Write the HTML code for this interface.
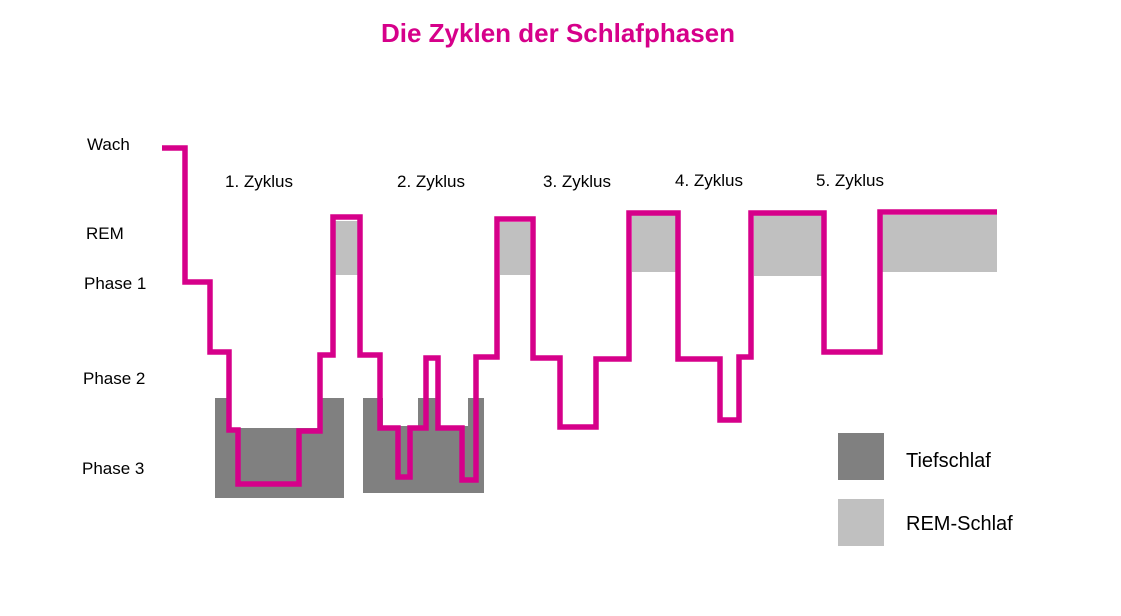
<!DOCTYPE html>
<html><head><meta charset="utf-8"><style>
html,body{margin:0;padding:0;background:#fff;}
svg{display:block;}
text{font-family:"Liberation Sans",sans-serif;}
</style></head><body>
<svg width="1121" height="616" viewBox="0 0 1121 616">
<rect width="1121" height="616" fill="#fff"/>
<text x="558" y="42" text-anchor="middle" font-size="26" font-weight="bold" fill="#d6008a">Die Zyklen der Schlafphasen</text>
<g fill="#808080">
<rect x="215" y="398" width="129" height="100"/>
<rect x="363" y="398" width="121" height="95"/>
<rect x="838" y="433" width="46" height="47"/>
</g>
<g fill="#fff">
<rect x="231" y="398" width="87" height="30"/>
<rect x="383" y="398" width="35" height="28"/>
<rect x="440" y="398" width="28" height="28"/>
</g>
<g fill="#c0c0c0">
<rect x="335" y="221" width="23" height="54"/>
<rect x="500" y="222" width="30" height="53"/>
<rect x="632" y="215" width="44" height="57"/>
<rect x="754" y="215" width="68" height="61"/>
<rect x="882" y="215" width="115" height="57"/>
<rect x="838" y="499" width="46" height="47"/>
</g>
<polyline fill="none" stroke="#d6008a" stroke-width="5.5" stroke-linejoin="miter" points="162,148 185,148 185,282 210,282 210,352 229,352 229,430 238,430 238,484 299,484 299,431 320,431 320,355 333,355 333,217 360,217 360,355 380,355 380,428 398,428 398,477 410,477 410,428 426,428 426,358 438,358 438,428 462,428 462,480 476,480 476,357 497,357 497,219 533,219 533,358 560,358 560,427 596,427 596,359 629,359 629,213 678,213 678,359 720,359 720,420 739,420 739,357 751,357 751,213 824,213 824,352 880,352 880,212 997,212"/>
<g font-size="17" fill="#000">
<text x="87" y="150">Wach</text>
<text x="86" y="239">REM</text>
<text x="84" y="289">Phase 1</text>
<text x="83" y="384">Phase 2</text>
<text x="82" y="474">Phase 3</text>
<text x="225" y="187">1. Zyklus</text>
<text x="397" y="187">2. Zyklus</text>
<text x="543" y="187">3. Zyklus</text>
<text x="675" y="186">4. Zyklus</text>
<text x="816" y="186">5. Zyklus</text>
</g>
<g font-size="20" fill="#000">
<text x="906" y="467">Tiefschlaf</text>
<text x="906" y="530">REM-Schlaf</text>
</g>
</svg>
</body></html>
